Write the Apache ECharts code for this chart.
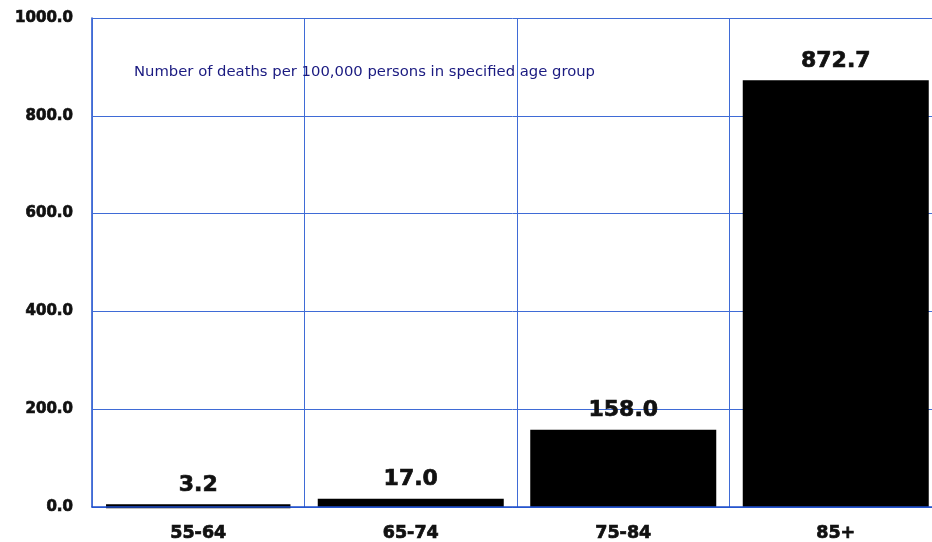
<!DOCTYPE html>
<html>
<head>
<meta charset="utf-8">
<script src="https://cdn.jsdelivr.net/npm/echarts@6/dist/echarts.min.js"></script>
<style>
  html, body { margin: 0; padding: 0; background: #fff; overflow: hidden; }
  #chart { width: 932px; height: 542px; }
</style>
</head>
<body>
<div id="chart"></div>
<script>
const ageGroups = ["55-64", "65-74", "75-84", "85+"];
const deathRates = [3.2, 17.0, 158.0, 872.7];
const note = "Number of deaths per 100,000 persons in specified age group";

const font = "DejaVu Sans";
const gridBlue = "#3f6bd6";

// bold text in the reference is heavier than DejaVu Bold, thicken it a bit
const heavy = (size, extra) => Object.assign({
  color: "#111", fontSize: size, fontWeight: "bold", fontFamily: font,
  textBorderColor: "#111", textBorderWidth: 0.7
}, extra);

const chart = echarts.init(document.getElementById("chart"), null, { renderer: "canvas" });

chart.setOption({
  animation: false,
  title: {
    text: note,
    left: 129,
    top: 60,
    textStyle: { color: "#1a1a80", fontSize: 14.8, fontWeight: "normal", fontFamily: font }
  },
  grid: { left: 92, right: -10, top: 18, bottom: 35, outerBoundsMode: "none" },
  xAxis: {
    type: "category",
    data: ageGroups,
    z: 5,
    axisLine: { lineStyle: { color: "#1f4fcc", width: 1.5 } },
    axisTick: { show: false },
    axisLabel: heavy(17.5, { margin: 17 }),
    splitLine: { show: true, lineStyle: { color: gridBlue, width: 1 } }
  },
  yAxis: {
    type: "value",
    min: 0,
    max: 1000,
    interval: 200,
    axisLine: { show: true, lineStyle: { color: "#1f4fcc", width: 1.5 } },
    axisTick: { show: false },
    axisLabel: heavy(15, { margin: 19, formatter: (v) => v.toFixed(1) }),
    splitLine: { lineStyle: { color: gridBlue, width: 1 } }
  },
  series: [{
    type: "bar",
    data: deathRates,
    barWidth: 186,
    itemStyle: { color: "#000", borderColor: "#000", borderWidth: 4 },
    label: Object.assign(heavy(22), {
      show: true,
      position: "top",
      distance: 8,
      formatter: (p) => p.value.toFixed(1)
    })
  }]
});
</script>
</body>
</html>
